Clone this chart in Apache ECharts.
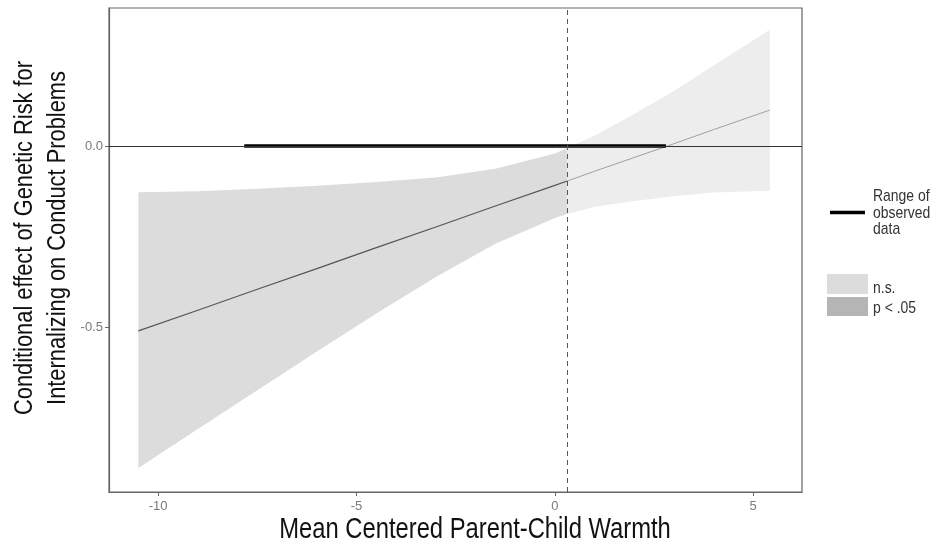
<!DOCTYPE html>
<html>
<head>
<meta charset="utf-8">
<script src="https://cdn.jsdelivr.net/npm/echarts@6/dist/echarts.min.js"></script>
<style>html,body{margin:0;padding:0;background:#fff;}#c{width:939px;height:551px;}</style>
</head>
<body>
<div id="c"></div>
<script>
// ---- data ----
const warmth   = [-10.5, -9, -7.5, -6, -4.5, -3, -1.5, 0, 0.31, 1, 2, 3, 4, 5.42];
const effect   = [-0.511, -0.454, -0.396, -0.339, -0.281, -0.224, -0.166, -0.109, -0.097, -0.070, -0.032, 0.006, 0.045, 0.099];
const ciUpper  = [-0.128, -0.125, -0.118, -0.110, -0.100, -0.087, -0.063, -0.021, -0.006, 0.028, 0.088, 0.152, 0.222, 0.321];
const ciLower  = [-0.890, -0.782, -0.675, -0.568, -0.463, -0.362, -0.270, -0.199, -0.188, -0.168, -0.152, -0.139, -0.129, -0.124];
const jnPoint  = 0.31;            // boundary of region of significance
const observedRange = [-7.83, 2.8];
const xTicks = [-10, -5, 0, 5];
const yTicks = [-0.5, 0.0];
const xTitle = 'Mean Centered Parent-Child Warmth';
const yTitle = 'Conditional effect of Genetic Risk for\nInternalizing on Conduct Problems';
const legendRange = 'Range of\nobserved\ndata';
const legendNS = 'n.s.';
const legendSig = 'p < .05';

const sigIdx = warmth.map((x, i) => i).filter(i => warmth[i] <= jnPoint);
const nsIdx = warmth.map((x, i) => i).filter(i => warmth[i] >= jnPoint);

function bandSeries(idx, color) {
  return {
    type: 'custom', coordinateSystem: 'cartesian2d', silent: true, z: 1,
    data: [[warmth[idx[0]], ciLower[idx[0]]]],
    renderItem: function (params, api) {
      const pts = [];
      idx.forEach(i => pts.push(api.coord([warmth[i], ciUpper[i]])));
      idx.slice().reverse().forEach(i => pts.push(api.coord([warmth[i], ciLower[i]])));
      return { type: 'polygon', shape: { points: pts }, style: { fill: color, stroke: null } };
    }
  };
}

const FONT = "'Liberation Sans', Arial, sans-serif";
const chart = echarts.init(document.getElementById('c'), null, { renderer: 'canvas' });
chart.setOption({
  animation: false,
  backgroundColor: '#ffffff',
  grid: { left: 109, right: 137, top: 8, bottom: 59, show: true, borderColor: '#666', borderWidth: 1.2, backgroundColor: 'transparent' },
  xAxis: {
    type: 'value', min: -11.24, max: 6.23,
    axisLine: { show: true, onZero: false, lineStyle: { color: '#666', width: 1.2 } },
    splitLine: { show: false },
    axisTick: { show: true, length: 4, lineStyle: { color: '#666' }, customValues: xTicks },
    axisLabel: { color: '#7a7a7a', fontSize: 13, fontFamily: FONT, margin: 8, customValues: xTicks, formatter: v => String(v) }
  },
  yAxis: {
    type: 'value', min: -0.956, max: 0.381,
    axisLine: { show: true, onZero: false, lineStyle: { color: '#666', width: 1.2 } },
    splitLine: { show: false },
    axisTick: { show: true, length: 4, lineStyle: { color: '#666' }, customValues: yTicks },
    axisLabel: { color: '#7a7a7a', fontSize: 13, fontFamily: FONT, margin: 6, customValues: yTicks, formatter: v => v.toFixed(1) }
  },
  series: [
    bandSeries(sigIdx, '#dcdcdc'),
    bandSeries(nsIdx, '#ededed'),
    {
      type: 'line', z: 3, showSymbol: false, silent: true,
      data: sigIdx.map(i => [warmth[i], effect[i]]),
      lineStyle: { color: '#555555', width: 1.2 },
      markLine: {
        silent: true, symbol: ['none', 'none'], label: { show: false },
        data: [
          { yAxis: 0, lineStyle: { color: '#333333', width: 1, type: 'solid' } },
          { xAxis: jnPoint, lineStyle: { color: '#555555', width: 1, type: [5, 4] } }
        ]
      }
    },
    {
      type: 'line', z: 3, showSymbol: false, silent: true,
      data: nsIdx.map(i => [warmth[i], effect[i]]),
      lineStyle: { color: '#a0a0a0', width: 1 }
    },
    {
      type: 'line', z: 4, showSymbol: false, silent: true,
      data: observedRange.map(x => [x, 0]),
      lineStyle: { color: '#000000', width: 3.5, cap: 'butt' }
    }
  ],
  graphic: [
    { type: 'text', x: 475, y: 530, scaleX: 0.82, style: { text: xTitle, font: '29px ' + FONT, fill: '#111', textAlign: 'center', textVerticalAlign: 'middle' } },
    { type: 'text', x: 41, y: 238, rotation: Math.PI / 2, scaleX: 0.84, style: { text: yTitle, font: '26px ' + FONT, fill: '#111', textAlign: 'center', textVerticalAlign: 'middle', lineHeight: 33 } },
    { type: 'line', shape: { x1: 830, y1: 212.5, x2: 865, y2: 212.5 }, style: { stroke: '#000', lineWidth: 3.3 } },
    { type: 'text', x: 873, y: 213, scaleX: 0.82, style: { text: legendRange, font: '17px ' + FONT, fill: '#333', textAlign: 'left', textVerticalAlign: 'middle', lineHeight: 16.5 } },
    { type: 'rect', shape: { x: 827, y: 274, width: 41, height: 20 }, style: { fill: '#dcdcdc' } },
    { type: 'rect', shape: { x: 827, y: 297, width: 41, height: 19 }, style: { fill: '#b5b5b5' } },
    { type: 'text', x: 873, y: 288, scaleX: 0.82, style: { text: legendNS, font: '17px ' + FONT, fill: '#333', textAlign: 'left', textVerticalAlign: 'middle' } },
    { type: 'text', x: 873, y: 308, scaleX: 0.82, style: { text: legendSig, font: '17px ' + FONT, fill: '#333', textAlign: 'left', textVerticalAlign: 'middle' } }
  ]
});
</script>
</body>
</html>
